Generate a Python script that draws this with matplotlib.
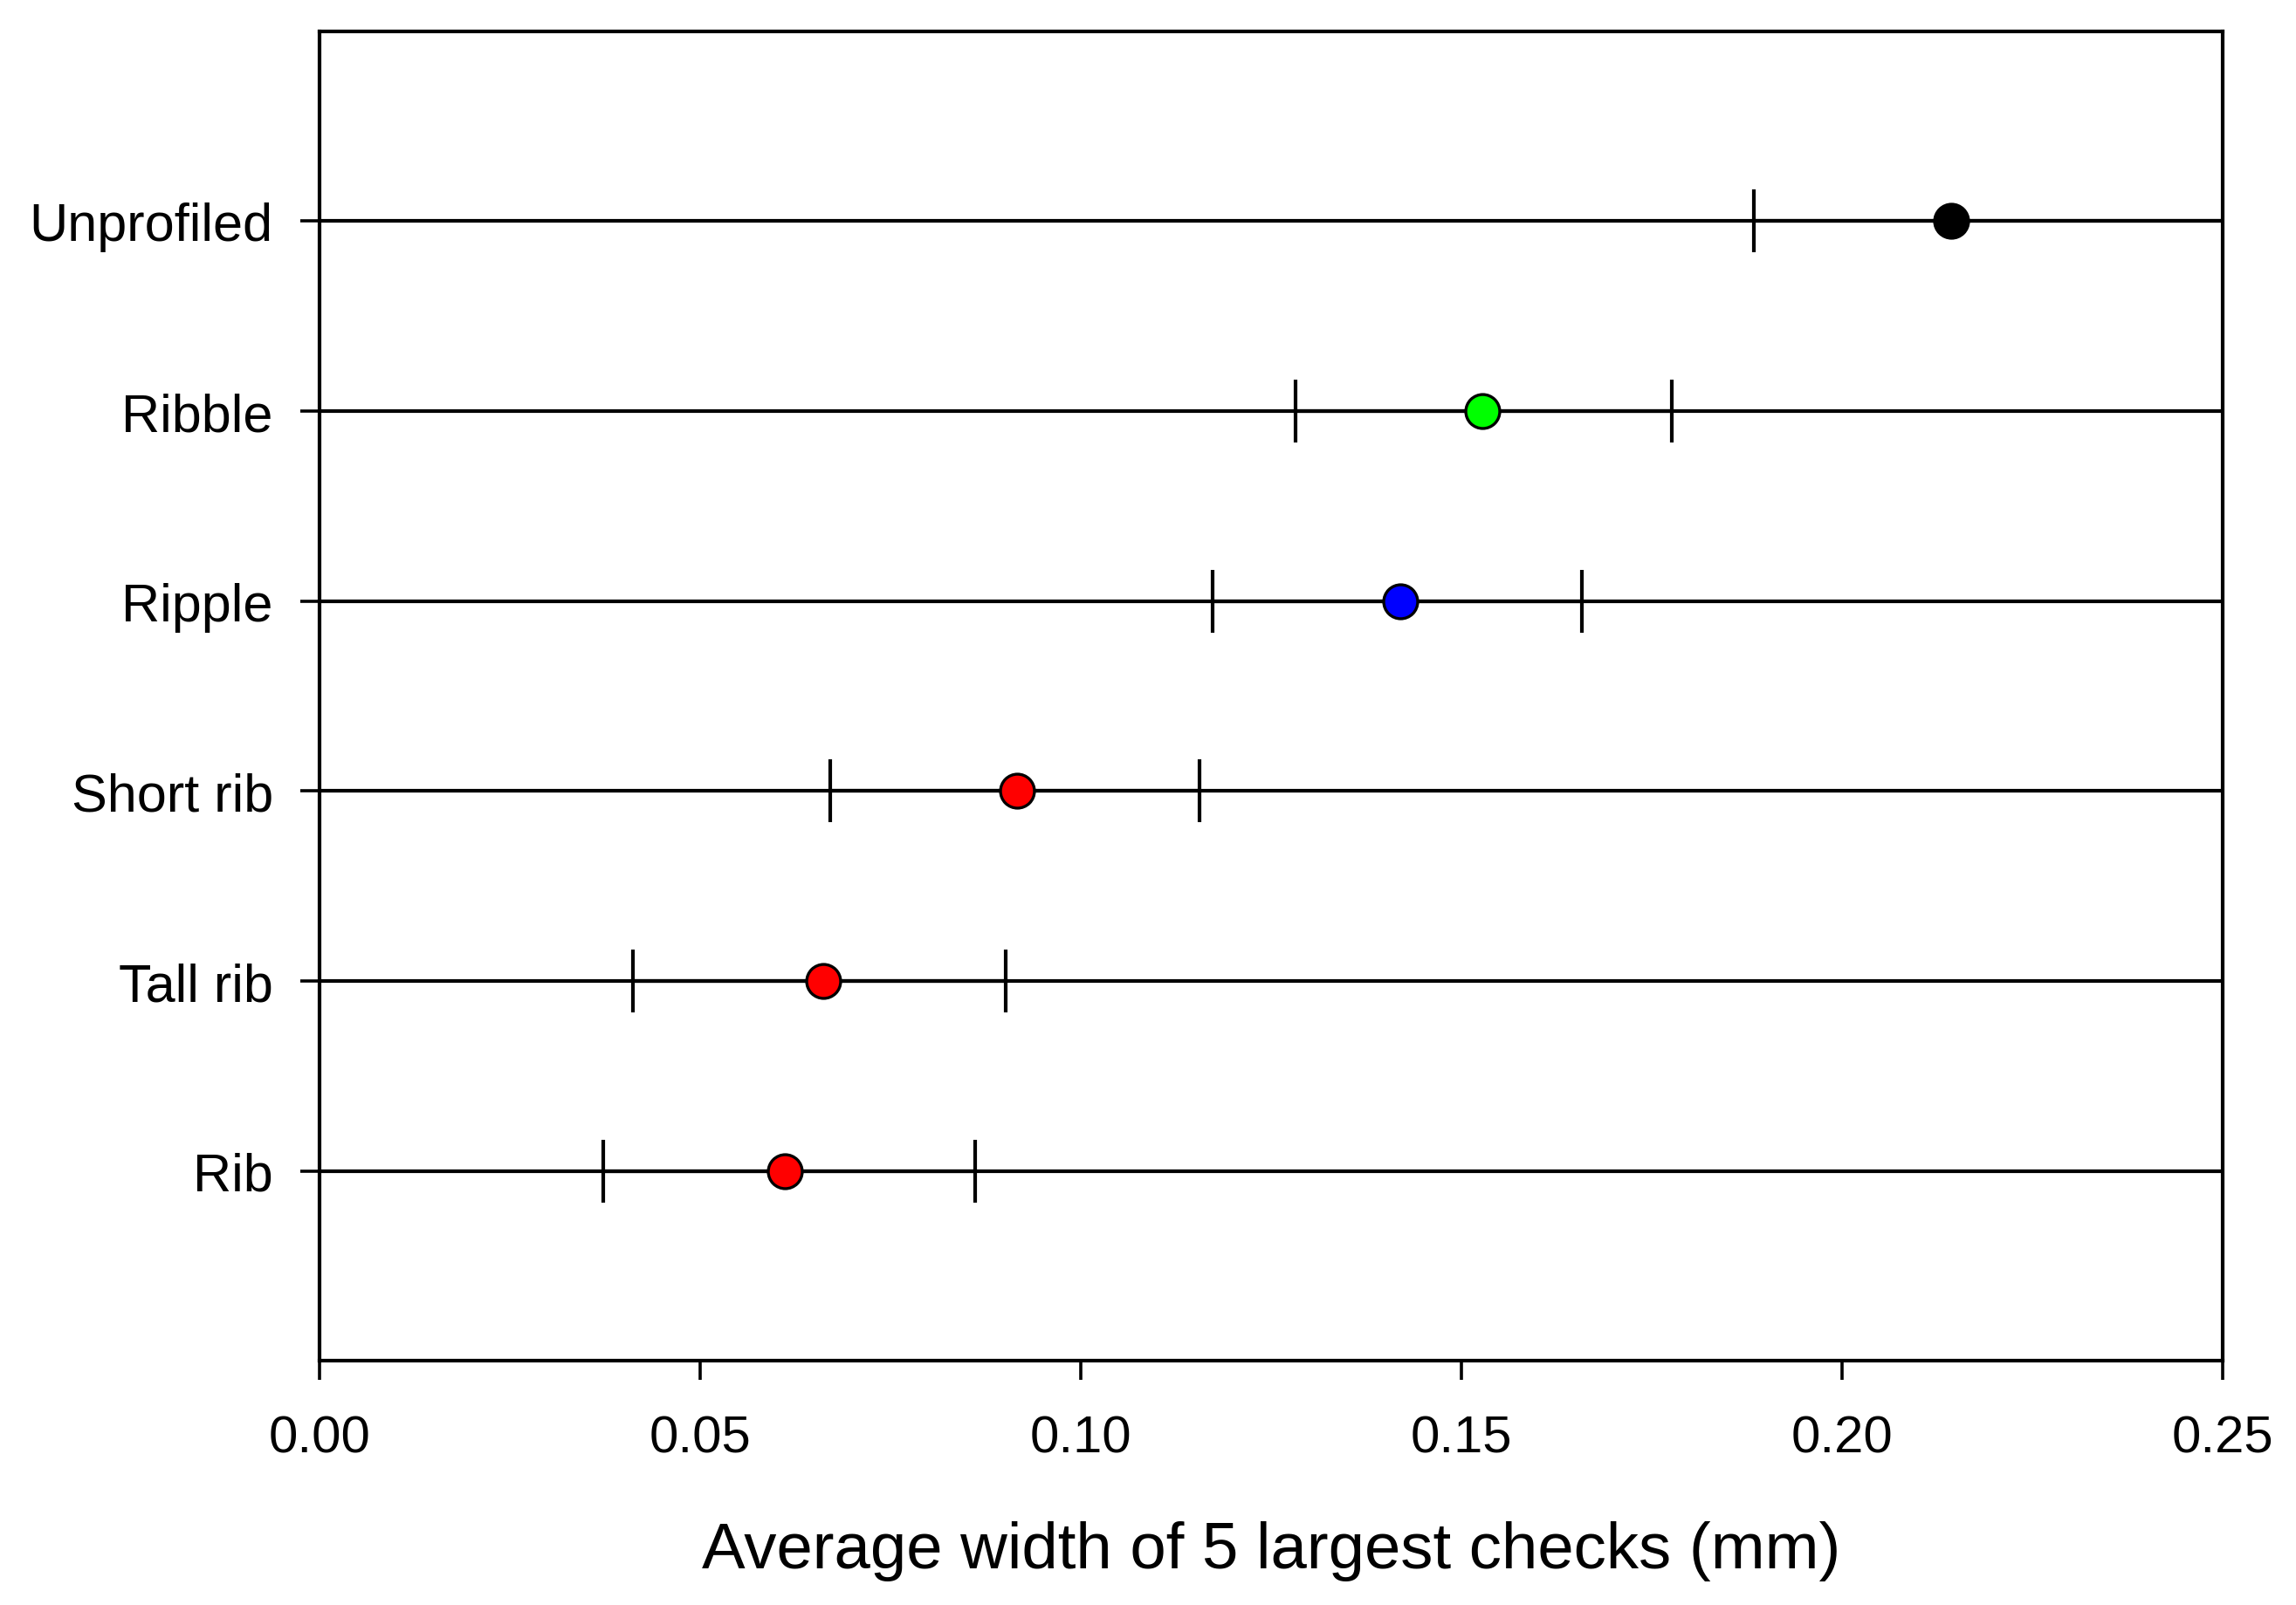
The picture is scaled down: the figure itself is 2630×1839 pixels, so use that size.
import matplotlib
matplotlib.use('Agg')
import matplotlib.pyplot as plt

# 数据
groups = ['Rib', 'Tall rib', 'Short rib', 'Ripple', 'Ribble', 'Unprofiled']
means = [0.0612, 0.0662, 0.0917, 0.1420, 0.1528, 0.2144]
lower = [0.0373, 0.0412, 0.0671, 0.1173, 0.1283, 0.1885]
upper = [0.0862, 0.0902, 0.1156, 0.1658, 0.1777, 0.2600]
colors = ['#ff0000', '#ff0000', '#ff0000', '#0000ff', '#00ff00', '#000000']
xticks = [0.00, 0.05, 0.10, 0.15, 0.20, 0.25]

plt.rcParams['font.family'] = ['Liberation Sans', 'DejaVu Sans']

fig = plt.figure(figsize=(13.15, 9.2), dpi=200)
ax = fig.add_axes([0.139, 0.152, 0.829, 0.828])

ypos = list(range(1, len(groups) + 1))
for y in ypos:
    ax.axhline(y, color='black', linewidth=1.5, zorder=1)

for i, y in enumerate(ypos):
    m = means[i]
    ax.errorbar(m, y, xerr=[[m - lower[i]], [upper[i] - m]], fmt='none',
                ecolor='black', elinewidth=1.5, capsize=13, capthick=1.5, zorder=2)
    ax.plot(m, y, 'o', markersize=14, markerfacecolor=colors[i],
            markeredgecolor='black', markeredgewidth=1.2, zorder=3)

ax.set_xlim(0, 0.25)
ax.set_ylim(0, 7)
ax.set_xticks(xticks)
ax.set_xticklabels(['%.2f' % v for v in xticks])
ax.set_yticks(ypos)
ax.set_yticklabels(groups)
ax.tick_params(axis='both', direction='out', length=8, width=1.3, labelsize=21.5, colors='black')
ax.tick_params(axis='y', pad=11, labelsize=22)
ax.tick_params(axis='x', pad=14)
for s in ax.spines.values():
    s.set_linewidth(1.5)
ax.set_xlabel('Average width of 5 largest checks (mm)', fontsize=26.8, labelpad=24)

fig.savefig('out.png', dpi=200)
